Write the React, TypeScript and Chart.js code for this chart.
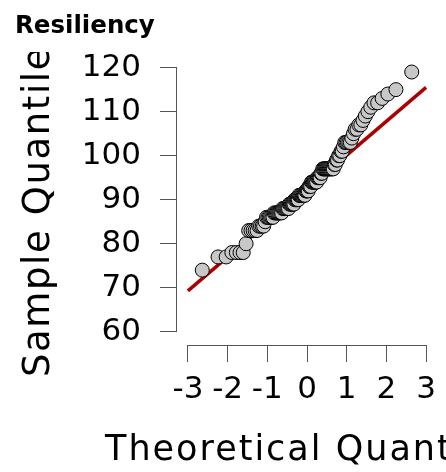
import React, { useEffect, useRef } from 'react';
import { Chart, registerables } from 'chart.js';

Chart.register(...registerables);

const chartTitle = 'Resiliency';
const xAxisTitle = 'Theoretical Quantiles';
const yAxisTitle = 'Sample Quantiles';

// Theoretical normal quantiles for n = 120 (ranked positions)
const theoreticalQuantiles = [
  -2.638, -2.241, -2.037, -1.893, -1.780, -1.687, -1.606, -1.534, -1.469, -1.411,
  -1.356, -1.306, -1.258, -1.213, -1.171, -1.130, -1.092, -1.054, -1.019, -0.984,
  -0.951, -0.919, -0.887, -0.857, -0.827, -0.798, -0.769, -0.742, -0.714, -0.688,
  -0.661, -0.636, -0.610, -0.585, -0.561, -0.536, -0.512, -0.489, -0.465, -0.442,
  -0.419, -0.397, -0.374, -0.352, -0.330, -0.308, -0.286, -0.264, -0.243, -0.221,
  -0.200, -0.178, -0.157, -0.136, -0.115, -0.094, -0.073, -0.052, -0.031, -0.010,
  0.010, 0.031, 0.052, 0.073, 0.094, 0.115, 0.136, 0.157, 0.178, 0.200,
  0.221, 0.243, 0.264, 0.286, 0.308, 0.330, 0.352, 0.374, 0.397, 0.419,
  0.442, 0.465, 0.489, 0.512, 0.536, 0.561, 0.585, 0.610, 0.636, 0.661,
  0.688, 0.714, 0.742, 0.769, 0.798, 0.827, 0.857, 0.887, 0.919, 0.951,
  0.984, 1.019, 1.054, 1.092, 1.130, 1.171, 1.213, 1.258, 1.306, 1.356,
  1.411, 1.469, 1.534, 1.606, 1.687, 1.780, 1.893, 2.037, 2.241, 2.638,
];

// Sorted sample values
const sampleQuantiles = [
  74, 77, 77, 78, 78, 78, 78, 80, 83, 83,
  83, 83, 83, 84, 84, 84, 84, 85, 86, 86,
  86, 86, 86, 86, 87, 87, 87, 87, 87, 87,
  87, 87, 88, 88, 88, 88, 88, 88, 88, 89,
  89, 89, 89, 89, 89, 90, 90, 90, 90, 90,
  91, 91, 91, 91, 91, 91, 91, 91, 92, 92,
  92, 92, 93, 93, 93, 94, 94, 94, 94, 94,
  94, 94, 95, 95, 95, 95, 96, 96, 97, 97,
  97, 97, 97, 97, 97, 97, 97, 97, 97, 97,
  98, 98, 99, 99, 100, 100, 101, 101, 102, 103,
  103, 103, 103, 103, 104, 105, 106, 106, 107, 107,
  108, 109, 110, 111, 112, 112, 113, 114, 115, 119,
];

const xTickValues = [-3, -2, -1, 0, 1, 2, 3];
const yTickValues = [60, 70, 80, 90, 100, 110, 120];

// Reference (qqline) parameters
const refLineIntercept = 92.4;
const refLineSlope = 7.7;

const AXIS_COLOR = '#555555';
const FONT = "'DejaVu Sans', sans-serif";

const align = (p: number) => Math.round(p - 0.5) + 0.5;

export default function App() {
  const ref = useRef<HTMLCanvasElement>(null);

  useEffect(() => {
    document.body.style.margin = '0';
    const canvas = ref.current;
    if (!canvas) return;

    const pts = theoreticalQuantiles.map((x, i) => ({ x, y: sampleQuantiles[i] }));
    const lineXs = [xTickValues[0], xTickValues[xTickValues.length - 1]];
    const linePts = lineXs.map((x) => ({ x, y: refLineIntercept + refLineSlope * x }));

    const axisLines = {
      id: 'axisLines',
      beforeDatasetsDraw(chart: any) {
        const { ctx, chartArea, scales } = chart;
        const xs = scales.x;
        const ys = scales.y;
        ctx.save();
        ctx.strokeStyle = AXIS_COLOR;
        ctx.lineWidth = 1;
        ctx.beginPath();
        const ax = align(chartArea.left);
        ctx.moveTo(ax, align(ys.getPixelForValue(yTickValues[0])) + 0.5);
        ctx.lineTo(ax, align(ys.getPixelForValue(yTickValues[yTickValues.length - 1])) - 0.5);
        const ay = align(chartArea.bottom);
        ctx.moveTo(align(xs.getPixelForValue(xTickValues[0])) - 0.5, ay);
        ctx.lineTo(align(xs.getPixelForValue(xTickValues[xTickValues.length - 1])) + 0.5, ay);
        ctx.stroke();
        ctx.restore();
      },
    };

    const axisTitles = {
      id: 'axisTitles',
      afterDraw(chart: any) {
        const ctx = chart.ctx;
        ctx.save();
        ctx.fillStyle = '#000000';
        // y-axis title (rotated)
        ctx.save();
        ctx.translate(49, 377);
        ctx.rotate(-Math.PI / 2);
        ctx.font = `37px ${FONT}`;
        (ctx as any).letterSpacing = '1.6px';
        ctx.textAlign = 'left';
        ctx.textBaseline = 'alphabetic';
        ctx.fillText(yAxisTitle, 0, 0);
        ctx.restore();
        // x-axis title
        ctx.save();
        ctx.font = `35px ${FONT}`;
        (ctx as any).letterSpacing = '2px';
        ctx.textAlign = 'left';
        ctx.textBaseline = 'alphabetic';
        ctx.fillText(xAxisTitle, 105, 460);
        ctx.restore();
        // top panel covers the overflow of the y title
        ctx.fillStyle = '#ffffff';
        ctx.fillRect(0, 0, chart.width, 52);
        ctx.restore();
        if (chart.titleBlock) chart.titleBlock.draw();
      },
    };

    const chart = new Chart(canvas, {
      type: 'scatter',
      data: {
        datasets: [
          {
            type: 'scatter',
            data: pts,
            backgroundColor: '#c8c8c8',
            borderColor: '#000000',
            borderWidth: 1,
            pointRadius: 7,
            pointHoverRadius: 7,
          } as any,
          {
            type: 'line',
            data: linePts,
            borderColor: '#aa0000',
            borderWidth: 3.5,
            pointRadius: 0,
            fill: false,
            showLine: true,
          } as any,
        ],
      },
      options: {
        animation: false,
        responsive: false,
        devicePixelRatio: 1,
        events: [],
        layout: { padding: { left: 15, right: 2.7, top: 0, bottom: 0 } },
        plugins: {
          legend: { display: false },
          tooltip: { enabled: false },
          title: {
            display: true,
            text: chartTitle,
            align: 'start',
            color: '#000000',
            font: { family: FONT, size: 24.5, weight: 'bold', lineHeight: 1.2 },
            padding: { top: 12, bottom: 8.6 },
          },
        },
        scales: {
          x: {
            type: 'linear',
            min: -3.3,
            max: 3.3,
            afterBuildTicks: (s: any) => {
              s.ticks = xTickValues.map((value) => ({ value }));
            },
            afterFit: (s: any) => {
              s.height = 127;
              s.paddingLeft = 0;
              s.paddingRight = 0;
            },
            border: { display: false },
            grid: {
              drawOnChartArea: false,
              drawTicks: true,
              tickLength: 17,
              color: AXIS_COLOR,
              lineWidth: 1,
            },
            ticks: {
              autoSkip: false,
              maxRotation: 0,
              minRotation: 0,
              padding: 0,
              color: '#000000',
              font: { family: FONT, size: 31, lineHeight: 1.8 },
              callback: (v: any) => String(v),
            },
          },
          y: {
            type: 'linear',
            min: 57,
            max: 124,
            afterBuildTicks: (s: any) => {
              s.ticks = yTickValues.map((value) => ({ value }));
            },
            afterFit: (s: any) => {
              s.width = 161;
              s.paddingTop = 0;
              s.paddingBottom = 0;
            },
            border: { display: false },
            grid: {
              drawOnChartArea: false,
              drawTicks: true,
              tickLength: 16,
              color: AXIS_COLOR,
              lineWidth: 1,
            },
            ticks: {
              autoSkip: false,
              padding: 19,
              color: '#000000',
              font: { family: FONT, size: 31 },
              callback: (v: any) => String(v),
            },
          },
        },
      } as any,
      plugins: [axisLines, axisTitles],
    });

    return () => {
      chart.destroy();
    };
  }, []);

  return (
    <div style={{ width: 446, height: 472 }}>
      <canvas ref={ref} width={446} height={472} style={{ display: 'block' }} />
    </div>
  );
}
